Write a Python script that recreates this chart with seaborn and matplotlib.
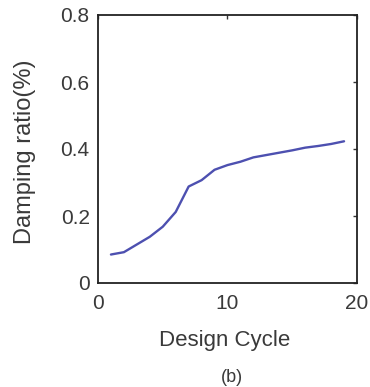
import matplotlib
matplotlib.use("Agg")
import matplotlib.pyplot as plt
import seaborn as sns
import pandas as pd

design_cycle = list(range(1, 20))
damping_ratio = [0.085, 0.092, 0.115, 0.138, 0.168, 0.212, 0.288, 0.307, 0.338, 0.352,
                 0.362, 0.375, 0.382, 0.389, 0.396, 0.404, 0.409, 0.415, 0.423]

x_ticks = [0, 10, 20]
y_ticks = [0, 0.2, 0.4, 0.6, 0.8]
y_tick_labels = ["0", "0.2", "0.4", "0.6", "0.8"]

sns.set_style("white")
plt.rcParams["font.family"] = ["Liberation Sans", "DejaVu Sans"]

df = pd.DataFrame({"cycle": design_cycle, "ratio": damping_ratio})

fig = plt.figure(figsize=(3.70, 3.87), dpi=100)
# axes box: x 98..357 px, y 15..283 px
ax = fig.add_axes([98 / 370, 1 - 283 / 387, 259 / 370, 268 / 387])
sns.lineplot(data=df, x="cycle", y="ratio", ax=ax, color="#4d50b0", linewidth=1.7)

ax.set_xlim(0, 20)
ax.set_ylim(0, 0.8)
ax.set_xticks(x_ticks)
ax.set_yticks(y_ticks)
ax.set_yticklabels(y_tick_labels)
ax.tick_params(direction="in", length=3, width=1, top=True, right=True,
               labelsize=15, colors="#333333", labelcolor="#3a3a3a")
ax.tick_params(axis="x", pad=8)
ax.tick_params(axis="y", pad=6)
for s in ax.spines.values():
    s.set_color("#222222")
    s.set_linewidth(1.3)

ax.set_xlabel("Design Cycle", fontsize=16, color="#3a3a3a")
ax.xaxis.label.set_va("center")
ax.xaxis.set_label_coords(0.49, -0.213)
ax.set_ylabel("Damping ratio(%)", fontsize=17, color="#3a3a3a")
ax.yaxis.label.set_va("center")
ax.yaxis.set_label_coords(-0.282, 0.49)

fig.text(232 / 370, 1 - 377 / 387, "(b)", fontsize=13, color="#3a3a3a",
         ha="center", va="center")

fig.savefig("out.png", dpi=100)
